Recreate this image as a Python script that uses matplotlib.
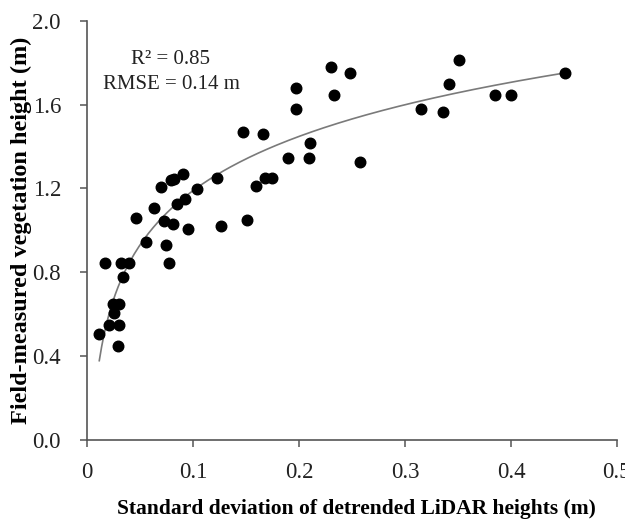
import numpy as np
import matplotlib
matplotlib.use("Agg")
import matplotlib.pyplot as plt

# Standard deviation of detrended LiDAR heights (m)
sd_lidar = [0.0113, 0.0170, 0.0208, 0.0249, 0.0245, 0.0296, 0.0302, 0.0287,
            0.0340, 0.0318, 0.0393, 0.0457, 0.0551, 0.0626, 0.0698, 0.0740,
            0.0726, 0.0771, 0.0792, 0.0815, 0.0811, 0.0849, 0.0906, 0.0925,
            0.0950, 0.1038, 0.1224, 0.1264, 0.1466, 0.1509, 0.1592, 0.1658,
            0.1674, 0.1742, 0.1893, 0.1975, 0.1975, 0.2101, 0.2094, 0.2299,
            0.2327, 0.2478, 0.2573, 0.3155, 0.3362, 0.3417, 0.3509, 0.3853,
            0.4004, 0.4509]

# Field-measured vegetation height (m)
veg_height = [0.507, 0.845, 0.548, 0.605, 0.648, 0.648, 0.548, 0.447,
              0.778, 0.845, 0.845, 1.060, 0.945, 1.107, 1.209, 0.928,
              1.047, 0.845, 1.239, 1.247, 1.030, 1.125, 1.268, 1.149,
              1.006, 1.196, 1.249, 1.019, 1.469, 1.049, 1.214, 1.459,
              1.249, 1.249, 1.347, 1.679, 1.579, 1.417, 1.347, 1.779,
              1.648, 1.753, 1.328, 1.578, 1.567, 1.697, 1.815, 1.648,
              1.648, 1.751]

# Logarithmic fit: height = a * ln(sd) + b
fit_a = 0.3725
fit_b = 2.048

x_ticks = [0, 0.1, 0.2, 0.3, 0.4, 0.5]
x_tick_labels = ["0", "0.1", "0.2", "0.3", "0.4", "0.5"]
y_ticks = [0.0, 0.4, 0.8, 1.2, 1.6, 2.0]
y_tick_labels = ["0.0", "0.4", "0.8", "1.2", "1.6", "2.0"]

stats_text = "R\u00b2 = 0.85\nRMSE = 0.14 m"

plt.rcParams["font.family"] = ["Liberation Serif", "DejaVu Serif"]

fig = plt.figure(figsize=(6.25, 5.2), dpi=100)
ax = fig.add_axes([0.1397, 0.154, 0.987 - 0.1397, 0.960 - 0.154])

x = np.array(sd_lidar)
y = np.array(veg_height)

xs = np.linspace(x.min(), x.max(), 200)
ax.plot(xs, fit_a * np.log(xs) + fit_b, color="#7a7a7a", lw=1.2, zorder=2)
ax.plot(x, y, "o", color="black", ms=7.6, mec="black", zorder=3)

ax.set_xlim(0, 0.5)
ax.set_ylim(0, 2.0)
ax.set_xticks(x_ticks)
ax.set_xticklabels(x_tick_labels)
ax.set_yticks(y_ticks)
ax.set_yticklabels(y_tick_labels)

for side in ("top", "right"):
    ax.spines[side].set_visible(False)
for side in ("left", "bottom"):
    ax.spines[side].set_color("#555555")
    ax.spines[side].set_linewidth(1.2)

ax.tick_params(axis="both", direction="out", length=5, width=1.1,
               color="#555555", labelsize=16.5, labelcolor="#222222")
ax.tick_params(axis="x", pad=11)
ax.tick_params(axis="y", pad=14)

ax.set_xlabel("Standard deviation of detrended LiDAR heights (m)",
              fontsize=15.5, fontweight="bold")
ax.xaxis.set_label_coords(0.509, -0.14)
ax.set_ylabel("Field-measured vegetation height (m)",
              fontsize=17.5, fontweight="bold", labelpad=0)

ax.text(0.079, 1.756, stats_text, ha="center", va="center",
        fontsize=15, linespacing=1.4, color="#222222")

fig.savefig("out.png", dpi=100)
